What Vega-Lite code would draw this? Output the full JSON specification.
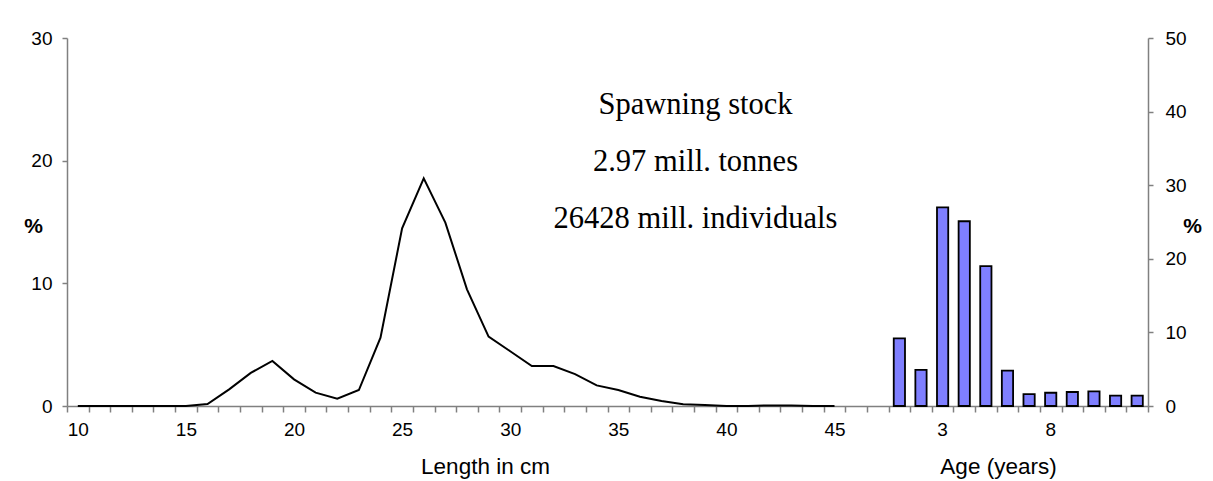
{
  "$schema": "https://vega.github.io/schema/vega-lite/v6.json",
  "width": 1081,
  "height": 368,
  "autosize": "none",
  "padding": {"left": 67, "top": 38, "right": 65, "bottom": 75},
  "background": "white",
  "title": {
    "text": ["Spawning stock", "2.97 mill. tonnes", "26428 mill.  individuals"],
    "font": "Liberation Serif",
    "fontSize": 30.5,
    "fontWeight": "normal",
    "color": "black",
    "lineHeight": 57,
    "orient": "top",
    "anchor": "middle",
    "frame": "group",
    "baseline": "alphabetic",
    "offset": 0,
    "dx": 88,
    "dy": 229
  },
  "config": {
    "view": {"stroke": null},
    "axis": {
      "grid": false,
      "labelFont": "Liberation Sans",
      "labelFontSize": 19,
      "labelColor": "black",
      "domainColor": "#808080",
      "tickColor": "#808080",
      "domainWidth": 1.5,
      "tickWidth": 1.5,
      "titleFont": "Liberation Sans",
      "titleFontSize": 22.5,
      "titleFontWeight": "normal",
      "titleColor": "black"
    }
  },
  "layer": [
    {
      "data": {
        "values": [
          {"length": 10, "pct": 0}, {"length": 11, "pct": 0}, {"length": 12, "pct": 0},
          {"length": 13, "pct": 0}, {"length": 14, "pct": 0}, {"length": 15, "pct": 0},
          {"length": 16, "pct": 0.16}, {"length": 17, "pct": 1.36}, {"length": 18, "pct": 2.7},
          {"length": 19, "pct": 3.67}, {"length": 20, "pct": 2.17}, {"length": 21, "pct": 1.09},
          {"length": 22, "pct": 0.6}, {"length": 23, "pct": 1.3}, {"length": 24, "pct": 5.57},
          {"length": 25, "pct": 14.48}, {"length": 26, "pct": 18.56}, {"length": 27, "pct": 14.95},
          {"length": 28, "pct": 9.51}, {"length": 29, "pct": 5.65}, {"length": 30, "pct": 4.46},
          {"length": 31, "pct": 3.26}, {"length": 32, "pct": 3.26}, {"length": 33, "pct": 2.6},
          {"length": 34, "pct": 1.68}, {"length": 35, "pct": 1.3}, {"length": 36, "pct": 0.76},
          {"length": 37, "pct": 0.41}, {"length": 38, "pct": 0.14}, {"length": 39, "pct": 0.08},
          {"length": 40, "pct": 0}, {"length": 41, "pct": 0}, {"length": 42, "pct": 0.05},
          {"length": 43, "pct": 0.05}, {"length": 44, "pct": 0}, {"length": 45, "pct": 0}
        ]
      },
      "mark": {"type": "line", "color": "black", "strokeWidth": 2},
      "encoding": {
        "x": {
          "field": "length",
          "type": "ordinal",
          "scale": {
            "type": "band",
            "paddingInner": 0,
            "paddingOuter": 0,
            "domain": [10, 11, 12, 13, 14, 15, 16, 17, 18, 19, 20, 21, 22, 23, 24, 25, 26, 27, 28, 29, 30, 31, 32, 33, 34, 35, 36, 37, 38, 39, 40, 41, 42, 43, 44, 45, "g1", "g2", "g3", "g4", "g5", "g6", "g7", "g8", "g9", "g10", "g11", "g12", "g13", "g14"]
          },
          "axis": {
            "orient": "bottom",
            "offset": 0,
            "tickBand": "extent",
            "tickSize": 6,
            "labelPadding": 8,
            "labelAngle": 0,
            "labelExpr": "indexof([10, 15, 20, 25, 30, 35, 40, 45], datum.value) >= 0 ? datum.label : ''",
            "title": "Length in cm",
            "titleX": 418,
            "titleY": 67,
            "titleAlign": "center",
            "titleBaseline": "alphabetic"
          }
        },
        "y": {
          "field": "pct",
          "type": "quantitative",
          "scale": {"domain": [0, 30], "nice": false},
          "axis": {
            "orient": "left",
            "values": [0, 10, 20, 30],
            "tickSize": 5,
            "labelPadding": 10,
            "title": "%",
            "titleAngle": 0,
            "titleFontWeight": "bold",
            "titleFontSize": 21,
            "titleX": -34,
            "titleY": 188,
            "titleAlign": "center",
            "titleBaseline": "middle"
          }
        }
      }
    },
    {
      "data": {
        "values": [
          {"age": 1, "pct": 9.2}, {"age": 2, "pct": 4.9}, {"age": 3, "pct": 27.0},
          {"age": 4, "pct": 25.1}, {"age": 5, "pct": 19.0}, {"age": 6, "pct": 4.8},
          {"age": 7, "pct": 1.6}, {"age": 8, "pct": 1.8}, {"age": 9, "pct": 1.9},
          {"age": 10, "pct": 2.0}, {"age": 11, "pct": 1.4}, {"age": 12, "pct": 1.4}
        ]
      },
      "mark": {"type": "bar", "color": "#7f7fff", "stroke": "black", "strokeWidth": 1.8, "width": {"band": 0.52}},
      "encoding": {
        "x": {
          "field": "age",
          "type": "ordinal",
          "scale": {
            "type": "band",
            "paddingInner": 0,
            "paddingOuter": 0,
            "domain": ["f1", "f2", "f3", "f4", "f5", "f6", "f7", "f8", "f9", "f10", "f11", "f12", "f13", "f14", "f15", "f16", "f17", "f18", "f19", "f20", "f21", "f22", "f23", "f24", "f25", "f26", "f27", "f28", "f29", "f30", "f31", "f32", "f33", "f34", "f35", "f36", "f37", "f38", 1, 2, 3, 4, 5, 6, 7, 8, 9, 10, 11, 12]
          },
          "axis": {
            "orient": "bottom",
            "offset": 0,
            "domain": false,
            "ticks": true,
            "tickOpacity": 0,
            "tickSize": 6,
            "labelPadding": 8,
            "labelAngle": 0,
            "labelExpr": "datum.value === 3 || datum.value === 8 ? datum.label : ''",
            "title": "Age (years)",
            "titleX": 931,
            "titleY": 67,
            "titleAlign": "center",
            "titleBaseline": "alphabetic"
          }
        },
        "y": {
          "field": "pct",
          "type": "quantitative",
          "scale": {"domain": [0, 50], "nice": false},
          "axis": {
            "orient": "right",
            "values": [0, 10, 20, 30, 40, 50],
            "tickSize": 5,
            "labelPadding": 12,
            "title": "%",
            "titleAngle": 0,
            "titleFontWeight": "bold",
            "titleFontSize": 21,
            "titleX": 44,
            "titleY": 188,
            "titleAlign": "center",
            "titleBaseline": "middle"
          }
        }
      }
    }
  ],
  "resolve": {
    "scale": {"x": "independent", "y": "independent"},
    "axis": {"x": "independent", "y": "independent"}
  }
}
